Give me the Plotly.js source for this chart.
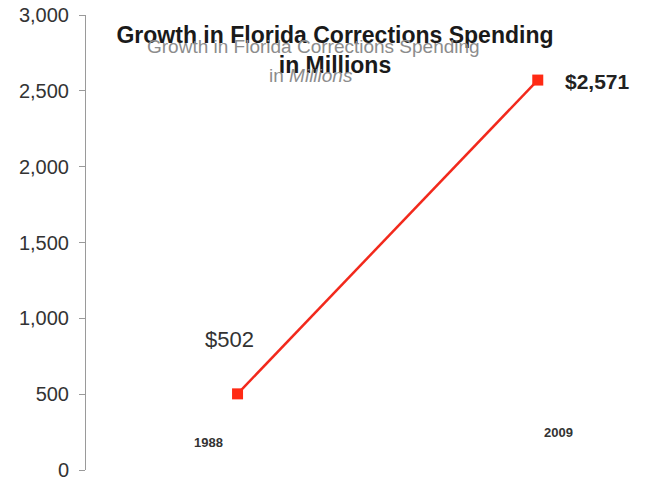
<!DOCTYPE html>
<html><head><meta charset="utf-8">
<script src="https://cdn.plot.ly/plotly-3.0.1.min.js"></script>
<style>html,body{margin:0;padding:0;background:#fff}#c{width:645px;height:479px}</style>
</head><body><div id="c"></div>
<script>
const years = [1988, 2009];
const spending = [502, 2571];
const valueLabels = ['$502', '$2,571'];
const yearLabels = ['1988', '2009'];
const yTicks = [0, 500, 1000, 1500, 2000, 2500, 3000];
const yTickText = ['0', '500', '1,000', '1,500', '2,000', '2,500', '3,000'];

const trace = {
  x: years, y: spending, type: 'scatter', mode: 'lines+markers',
  line: {color: '#f2291c', width: 2.5},
  marker: {symbol: 'square', size: 11, color: '#ff2a14'},
  hoverinfo: 'skip'
};

const annotations = [
  // faded duplicate title behind
  {xref: 'paper', yref: 'paper', x: (313-86)/559, y: 1 + (15-47)/455, text: 'Growth in Florida Corrections Spending',
   showarrow: false, font: {family: 'Liberation Sans', size: 19, color: '#8c8c8c'}, xanchor: 'center', yanchor: 'middle'},
  {xref: 'paper', yref: 'paper', x: (311-86)/559, y: 1 + (15-76)/455, text: 'in <i>Millions</i>',
   showarrow: false, font: {family: 'Liberation Sans', size: 19, color: '#8c8c8c'}, xanchor: 'center', yanchor: 'middle'},
  // value labels
  {x: years[0] - 0.55, y: spending[0] + 360, text: valueLabels[0], showarrow: false,
   font: {family: 'Liberation Sans', size: 22, color: '#333'}, xanchor: 'center', yanchor: 'middle'},
  {x: years[1] + 4.15, y: spending[1] - 12, text: '<b>' + valueLabels[1] + '</b>', showarrow: false,
   font: {family: 'Liberation Sans', size: 21, color: '#222'}, xanchor: 'center', yanchor: 'middle'},
  // year labels
  {x: years[0] - 2.05, y: 184, text: '<b>' + yearLabels[0] + '</b>', showarrow: false,
   font: {family: 'Liberation Sans', size: 13, color: '#333'}, xanchor: 'center', yanchor: 'middle'},
  {x: years[1] + 1.45, y: 250, text: '<b>' + yearLabels[1] + '</b>', showarrow: false,
   font: {family: 'Liberation Sans', size: 13, color: '#333'}, xanchor: 'center', yanchor: 'middle'}
];

const layout = {
  width: 645, height: 479,
  margin: {l: 86, r: 0, t: 15, b: 9},
  paper_bgcolor: '#fff', plot_bgcolor: '#fff',
  showlegend: false,
  title: {
    text: '<b>Growth in Florida Corrections Spending<br>in Millions</b>',
    font: {family: 'Liberation Sans', size: 23, color: '#1a1a1a'},
    xref: 'container', yref: 'container', x: 335/645, y: 1 - 43/479,
    xanchor: 'center', yanchor: 'middle'
  },
  xaxis: {range: [1977.4, 2016.5], visible: false, fixedrange: true},
  yaxis: {
    range: [0, 3000], tickvals: yTicks, ticktext: yTickText,
    showgrid: false, zeroline: false, showline: true, linecolor: '#9a9a9a', linewidth: 1,
    ticks: 'outside', ticklen: 6, tickcolor: '#9a9a9a', ticklabelstandoff: 6,
    ticklabeloverflow: 'allow',
    tickfont: {family: 'Liberation Sans', size: 20, color: '#333'}
  },
  annotations: annotations
};

Plotly.newPlot('c', [trace], layout, {displayModeBar: false, staticPlot: true});
</script>
</body></html>
